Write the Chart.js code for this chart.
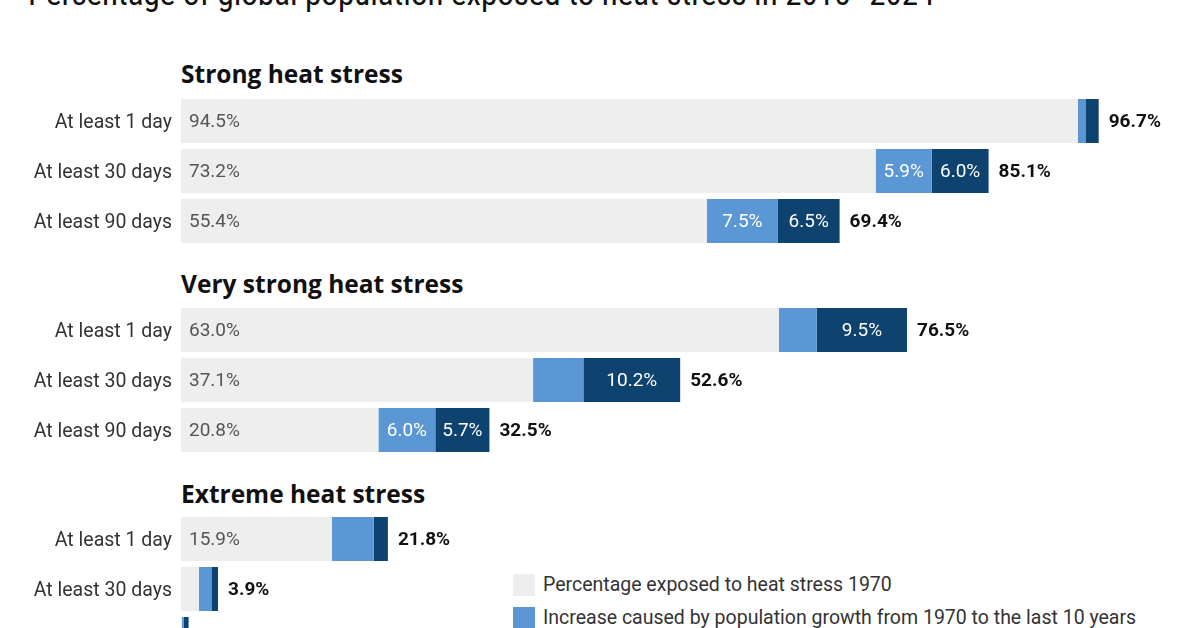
<!DOCTYPE html>
<html>
<head>
<meta charset="utf-8">
<script src="https://cdn.jsdelivr.net/npm/chart.js@4.4.1/dist/chart.umd.min.js"></script>
<style>
  html, body { margin: 0; padding: 0; background: #fff; overflow: hidden; }
  body { width: 1200px; height: 628px; position: relative; font-family: Roboto, "Noto Sans", sans-serif; }
  #title { position: absolute; left: 28px; top: -26px; font-family: "Liberation Sans Narrow", "Roboto Condensed", Roboto, sans-serif; font-size: 33px; color: #111; white-space: nowrap; }
  .heading { position: absolute; left: 181px; font-family: "Open Sans", "Noto Sans", sans-serif; font-weight: 700; font-size: 24.5px; color: #111; white-space: nowrap; line-height: 30px; }
  .chartbox { position: absolute; left: 0; width: 1200px; height: 150px; }
  #legend { position: absolute; left: 513px; top: 574px; }
  .lg { position: relative; height: 33px; font-size: 19.5px; color: #333; white-space: nowrap; }
  .lg span.sw { position: absolute; left: 0; top: 0; width: 22px; height: 22px; }
  .lg span.tx { position: absolute; left: 30px; top: -1px; line-height: 24px; }
</style>
</head>
<body>
<div id="title">Percentage of global population exposed to heat stress in 2015–2024</div>
<div id="legend"></div>
<script>
// ---- data ----
const titleText = "Percentage of global population exposed to heat stress in 2015–2024";
const groups = ["Strong heat stress", "Very strong heat stress", "Extreme heat stress"];
const categories = ["At least 1 day", "At least 30 days", "At least 90 days"];
const seriesNames = [
  "Percentage exposed to heat stress 1970",
  "Increase caused by population growth from 1970 to the last 10 years",
  "Increase caused by climate change"
];
// per group: [1 day, 30 days, 90 days]
const base1970 = [[94.5, 73.2, 55.4], [63.0, 37.1, 20.8], [15.9, 1.9, 0.1]];
const popGrowth = [[0.8, 5.9, 7.5], [4.0, 5.3, 6.0], [4.4, 1.3, 0.2]];
const climateChange = [[1.4, 6.0, 6.5], [9.5, 10.2, 5.7], [1.5, 0.7, 0.5]];
const totals = [[96.7, 85.1, 69.4], [76.5, 52.6, 32.5], [21.8, 3.9, 0.8]];

// ---- styles ----
const colors = ["#eeeeee", "#5b97d4", "#0e426f"];
const groupTops = [96, 305, 514];
const headingTops = [59, 269, 479];

// legend
const legend = document.getElementById('legend');
seriesNames.forEach((n, i) => {
  const d = document.createElement('div');
  d.className = 'lg';
  d.innerHTML = '<span class="sw" style="background:' + colors[i] + '"></span><span class="tx">' + n + '</span>';
  legend.appendChild(d);
});

const fmt = v => v.toFixed(1) + '%';

const labelPlugin = {
  id: 'barLabels',
  afterDatasetsDraw(chart) {
    const ctx = chart.ctx;
    const g = chart.options.plugins.barLabels.group;
    ctx.save();
    ctx.textBaseline = 'middle';
    chart.data.datasets.forEach((ds, di) => {
      const meta = chart.getDatasetMeta(di);
      meta.data.forEach((bar, i) => {
        const v = ds.data[i];
        const w = Math.abs(bar.x - bar.base);
        if (di === 0) {
          if (w > 60) {
            ctx.font = '19px Roboto';
            ctx.fillStyle = '#555';
            ctx.textAlign = 'left';
            ctx.fillText(fmt(v), bar.base + 8, bar.y + 1);
          }
        } else if (v >= 5.5) {
          ctx.font = '19px Roboto';
          ctx.fillStyle = '#ffffff';
          ctx.textAlign = 'center';
          ctx.fillText(fmt(v), (bar.x + bar.base) / 2, bar.y + 1);
        }
      });
    });
    // totals
    const lastMeta = chart.getDatasetMeta(chart.data.datasets.length - 1);
    lastMeta.data.forEach((bar, i) => {
      ctx.font = 'bold 19px Roboto';
      ctx.fillStyle = '#111';
      ctx.textAlign = 'left';
      ctx.fillText(fmt(totals[g][i]), bar.x + 10, bar.y + 1);
    });
    ctx.restore();
  }
};

groups.forEach((name, g) => {
  const h = document.createElement('div');
  h.className = 'heading';
  h.style.top = headingTops[g] + 'px';
  h.textContent = name;
  document.body.appendChild(h);

  const box = document.createElement('div');
  box.className = 'chartbox';
  box.style.top = groupTops[g] + 'px';
  const cv = document.createElement('canvas');
  cv.width = 1200; cv.height = 150;
  box.appendChild(cv);
  document.body.appendChild(box);

  new Chart(cv, {
    type: 'bar',
    data: {
      labels: categories,
      datasets: [
        { label: seriesNames[0], data: base1970[g], backgroundColor: colors[0] },
        { label: seriesNames[1], data: popGrowth[g], backgroundColor: colors[1] },
        { label: seriesNames[2], data: climateChange[g], backgroundColor: colors[2] }
      ]
    },
    options: {
      indexAxis: 'y',
      responsive: false,
      animation: false,
      devicePixelRatio: 1,
      layout: { padding: { left: 0, right: 70, top: 0, bottom: 0 } },
      datasets: { bar: { barPercentage: 0.88, categoryPercentage: 1, borderWidth: 0 } },
      scales: {
        x: { stacked: true, min: 0, max: 100, display: false },
        y: {
          stacked: true,
          grid: { display: false, drawTicks: false },
          border: { display: false },
          ticks: { color: '#333', font: { family: 'Roboto', size: 19.5 }, padding: 9, labelOffset: 2 },
          afterFit(scale) {
            scale.width = 181;
            scale.paddingTop = 0;
            scale.paddingBottom = 0;
          }
        }
      },
      plugins: {
        legend: { display: false },
        tooltip: { enabled: false },
        barLabels: { group: g }
      }
    },
    plugins: [labelPlugin]
  });
});
</script>
</body>
</html>
